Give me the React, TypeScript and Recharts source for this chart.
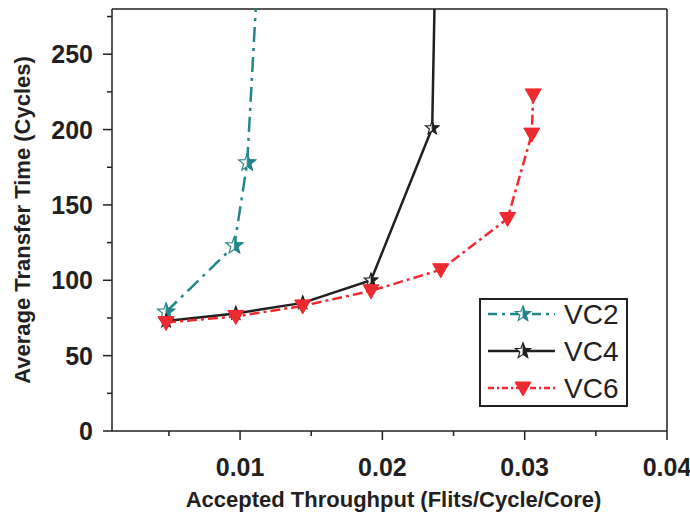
import React from "react";
import {
  LineChart,
  Line,
  XAxis,
  YAxis,
  ReferenceLine,
} from "recharts";

// values
const vc2X = [0.0048, 0.0096, 0.0105, 0.0113];
const vc2Y = [79, 123, 178, 314];
const vc4X = [0.0048, 0.0097, 0.0144, 0.0192, 0.0235, 0.0237];
const vc4Y = [73, 78, 85, 100, 201, 300];
const vc6X = [0.0048, 0.0097, 0.0144, 0.0192, 0.0241, 0.0288, 0.0305, 0.0306];
const vc6Y = [72, 76, 83, 93, 107, 141, 197, 223];

const xTicks = [0.005, 0.01, 0.015, 0.02, 0.025, 0.03, 0.035, 0.04];
const xMajor = [0.01, 0.02, 0.03, 0.04];
const xLabels = ["0.01", "0.02", "0.03", "0.04"];
const yTicks = [0, 25, 50, 75, 100, 125, 150, 175, 200, 225, 250, 275];
const yMajor = [0, 50, 100, 150, 200, 250];

const FONT = "'Liberation Sans', Arial, sans-serif";
const INK = "#231f20";
const TEAL = "#23868a";
const RED = "#ed2a2f";

const toPoints = (xs: number[], ys: number[]) => xs.map((x, i) => ({ x, y: ys[i] }));
const vc2 = toPoints(vc2X, vc2Y);
const vc4 = toPoints(vc4X, vc4Y);
const vc6 = toPoints(vc6X, vc6Y);

function starPts(cx: number, cy: number, R: number, r: number) {
  const pts: [number, number][] = [];
  for (let k = 0; k < 10; k++) {
    const a = ((-90 + k * 36) * Math.PI) / 180;
    const rad = k % 2 === 0 ? R : r;
    pts.push([cx + rad * Math.cos(a), cy + rad * Math.sin(a)]);
  }
  return pts;
}

function HalfStar({ cx, cy, color, R = 8 }: any) {
  if (cx == null || cy == null) return null;
  const pts = starPts(cx, cy, R, R * 0.42);
  const all = pts.map((p) => p.join(",")).join(" ");
  const right = pts.slice(0, 6).map((p) => p.join(",")).join(" ");
  return (
    <g>
      <polygon points={all} fill="#fff" stroke={color} strokeWidth={1.2} />
      <polygon points={right} fill={color} stroke={color} strokeWidth={0.8} />
    </g>
  );
}

function DownTri({ cx, cy, color }: any) {
  if (cx == null || cy == null) return null;
  const pts = `${cx - 8},${cy - 6} ${cx + 8},${cy - 6} ${cx},${cy + 8}`;
  return <polygon points={pts} fill={color} stroke={color} strokeWidth={1} />;
}

function XTick({ x, y, payload }: any) {
  const idx = xMajor.indexOf(payload.value);
  const major = idx >= 0;
  return (
    <g>
      <line x1={x} x2={x} y1={y} y2={y + (major ? 9 : 5)} stroke={INK} strokeWidth={1.5} />
      {major && (
        <text x={x} y={y + 45} textAnchor="middle" fontFamily={FONT} fontWeight="bold" fontSize={25} fill={INK}>
          {xLabels[idx]}
        </text>
      )}
    </g>
  );
}

function YTick({ x, y, payload }: any) {
  const major = yMajor.includes(payload.value);
  return (
    <g>
      <line x1={x} x2={x - (major ? 9 : 5)} y1={y} y2={y} stroke={INK} strokeWidth={1.5} />
      {major && (
        <text x={x - 19} y={y + 9} textAnchor="end" fontFamily={FONT} fontWeight="bold" fontSize={25} fill={INK}>
          {payload.value}
        </text>
      )}
    </g>
  );
}

const legendItems = [
  { name: "VC2", color: TEAL, dash: "9 5 3 5", marker: "star" },
  { name: "VC4", color: INK, dash: undefined, marker: "star" },
  { name: "VC6", color: RED, dash: "6 3 2 3", marker: "tri" },
];

function LegendBox() {
  return (
    <svg width={150} height={110} style={{ display: "block" }}>
      <rect x={1} y={1} width={147} height={107} fill="#fff" stroke={INK} strokeWidth={2} />
      {legendItems.map((it, i) => {
        const cy = 16 + i * 37;
        return (
          <g key={it.name}>
            <line x1={9} x2={76} y1={cy} y2={cy} stroke={it.color} strokeWidth={2.5} strokeDasharray={it.dash} />
            {it.marker === "star" ? (
              <HalfStar cx={44} cy={cy} color={it.color} />
            ) : (
              <DownTri cx={44} cy={cy} color={it.color} />
            )}
            <text x={85} y={cy + 10} fontFamily={FONT} fontSize={28} fill={INK}>
              {it.name}
            </text>
          </g>
        );
      })}
    </svg>
  );
}

export default function App() {
  return (
    <div style={{ position: "absolute", left: 0, top: 0, width: 690, height: 517, background: "#fff" }}>
      <LineChart width={690} height={517} margin={{ top: 9, right: 23, bottom: 0, left: 0 }}>
        <XAxis
          type="number"
          dataKey="x"
          domain={[0.001, 0.04]}
          ticks={xTicks}
          tick={<XTick />}
          tickLine={false}
          tickSize={0}
          tickMargin={0}
          interval={0}
          height={86}
          axisLine={{ stroke: INK, strokeWidth: 1.5 }}
          allowDataOverflow
          label={{
            value: "Accepted Throughput (Flits/Cycle/Core)",
            position: "insideBottom",
            offset: 10,
            dx: 4,
            style: { fontFamily: FONT, fontWeight: "bold", fontSize: 22, fill: INK },
          }}
        />
        <YAxis
          type="number"
          dataKey="y"
          domain={[0, 280]}
          ticks={yTicks}
          tick={<YTick />}
          tickLine={false}
          tickSize={0}
          tickMargin={0}
          interval={0}
          width={112}
          axisLine={{ stroke: INK, strokeWidth: 1.5 }}
          allowDataOverflow
          label={{
            value: "Average Transfer Time (Cycles)",
            angle: -90,
            position: "insideLeft",
            offset: 22,
            style: { fontFamily: FONT, fontWeight: "bold", fontSize: 22, fill: INK, textAnchor: "middle" },
          }}
        />
        <ReferenceLine y={280} stroke={INK} strokeWidth={1.5} />
        <ReferenceLine x={0.04} stroke={INK} strokeWidth={1.5} />
        <Line
          data={vc2}
          dataKey="y"
          name="VC2"
          stroke={TEAL}
          strokeWidth={2.5}
          strokeDasharray="15 6 3 6"
          dot={(p: any) => <HalfStar key={`a${p.index}`} cx={p.cx} cy={p.cy} color={TEAL} R={9} />}
          isAnimationActive={false}
        />
        <Line
          data={vc4}
          dataKey="y"
          name="VC4"
          stroke={INK}
          strokeWidth={2.5}
          dot={(p: any) => <HalfStar key={`b${p.index}`} cx={p.cx} cy={p.cy} color={INK} R={7} />}
          isAnimationActive={false}
        />
        <Line
          data={vc6}
          dataKey="y"
          name="VC6"
          stroke={RED}
          strokeWidth={2.5}
          strokeDasharray="10 4 3 4"
          dot={(p: any) => <DownTri key={`c${p.index}`} cx={p.cx} cy={p.cy} color={RED} />}
          isAnimationActive={false}
        />
      </LineChart>
      <div style={{ position: "absolute", left: 479, top: 298 }}>
        <LegendBox />
      </div>
    </div>
  );
}
